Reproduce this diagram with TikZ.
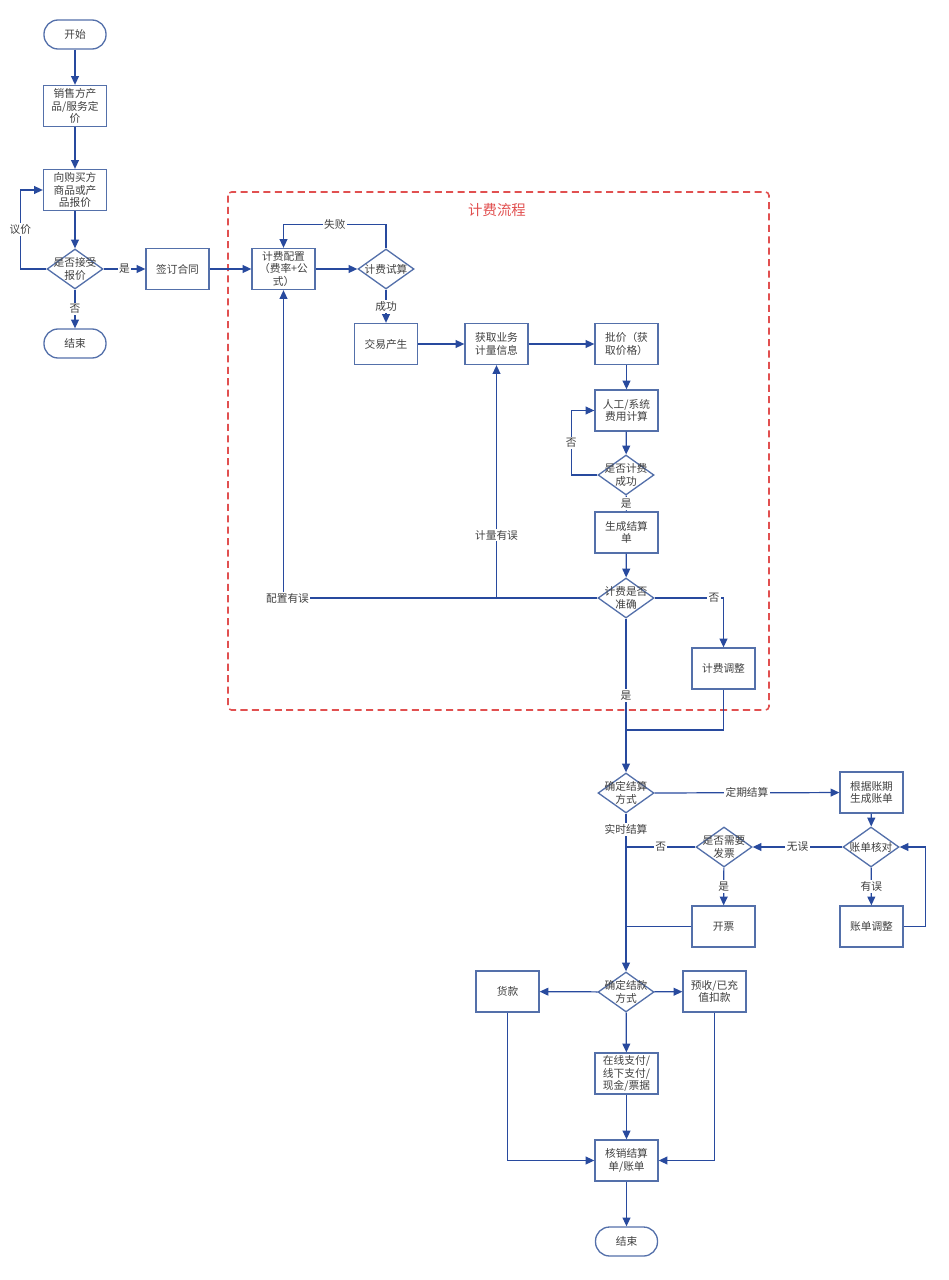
\documentclass[tikz,border=0pt]{standalone}
\usepackage{fontspec}
\setmainfont{Noto Sans CJK SC}
\usetikzlibrary{arrows.meta,shapes.geometric}
\definecolor{boxc}{RGB}{84,112,170}
\definecolor{linec}{RGB}{40,74,158}
\definecolor{txtc}{RGB}{64,64,64}
\definecolor{redc}{RGB}{225,80,80}
\begin{document}
\begin{tikzpicture}[x=0.02cm,y=-0.02cm,
 font=\fontsize{6.1}{7.1}\selectfont, text=txtc,
 box/.style={draw=boxc,line width=0.75pt,minimum width=1.26cm,minimum height=0.82cm,inner sep=1pt,align=center,fill=white},
 term/.style={draw=boxc,line width=0.75pt,rounded corners=0.28cm,minimum width=1.24cm,minimum height=0.58cm,align=center,fill=white},
 dia/.style={draw=boxc,line width=0.75pt,diamond,minimum width=1.12cm,minimum height=0.8cm,inner sep=0pt,fill=white,label={[align=center,text=txtc]center:#1}},
 arr/.style={draw=linec,line width=0.7pt,-{Triangle[length=5pt,width=4.5pt]}},
 ln/.style={draw=linec,line width=0.7pt},
 lab/.style={fill=white,inner sep=0.8pt,text=txtc},
]
\useasboundingbox (0,0) rectangle (948,1280);
% dashed frame
\draw[redc,line width=0.9pt,dash pattern=on 4pt off 2.5pt,rounded corners=2pt] (228,192) rectangle (769,710);
\node[text=redc,font=\fontsize{8.2}{9}\selectfont] (title) at (497,210) {计费流程};

% left column
\node[term] (start) at (75,34.5) {开始};
\node[box] (price) at (75,106) {销售方产\\品/服务定\\价};
\node[box] (quote) at (75,190) {向购买方\\商品或产\\品报价};
\node[dia={是否接受\\报价}] (acc) at (75,269) {};
\node[term] (end1) at (75,343.5) {结束};
\node[box] (sign) at (177.5,269) {签订合同};

\draw[arr] (start) -- (price);
\draw[arr] (price) -- (quote);
\draw[arr] (quote) -- (acc);
\draw[arr] (acc.west) -- ++(-26,0) |- node[lab,pos=0.25]{议价} (quote.west);
\draw[arr] (acc) -- node[lab]{否} (end1);
\draw[arr] (acc) -- node[lab]{是} (sign);

% billing process
\node[box] (cfg) at (283.5,269) {计费配置\\（费率+公\\式）};
\node[dia={计费试算}] (try) at (386,269) {};
\node[box] (trade) at (386,344) {交易产生};
\node[box] (meas) at (496.5,344) {获取业务\\计量信息};
\node[box] (batch) at (626.5,344) {批价（获\\取价格）};
\node[box] (calc) at (626.5,410.5) {人工/系统\\费用计算};
\node[dia={是否计费\\成功}] (ok) at (626,475) {};
\node[box] (gen) at (626.5,532.5) {生成结算\\单};
\node[dia={计费是否\\准确}] (acc2) at (626,598) {};
\node[box] (adj) at (723.5,668.5) {计费调整};

\draw[arr] (sign) -- (cfg);
\draw[arr] (cfg) -- (try);
\draw[arr] (try.north) -- ++(0,-24) -| node[lab,pos=0.25]{失败} (cfg.north);
\draw[arr] (try) -- node[lab]{成功} (trade);
\draw[arr] (trade) -- (meas);
\draw[arr] (meas) -- (batch);
\draw[arr] (batch) -- (calc);
\draw[arr] (calc) -- (ok);
\draw[arr] (ok.west) -- ++(-26,0) |- node[lab,pos=0.25]{否} (calc.west);
\draw[arr] (ok) -- node[lab]{是} (gen);
\draw[arr] (gen) -- (acc2);
\draw[arr] (acc2.west) -| node[lab,pos=0.5,xshift=0.08cm]{配置有误} (cfg.south);
\draw[arr] (meas.south |- acc2.west) -- node[lab,pos=0.27]{计量有误} (meas.south);
\draw[arr] (acc2.east) -| node[lab,pos=0.43]{否} (adj.north);

% settlement
\node[dia={确定结算\\方式}] (mode) at (626,793) {};
\node[box] (bill) at (871.5,792.5) {根据账期\\生成账单};
\node[dia={账单核对}] (chk) at (871,847) {};
\node[dia={是否需要\\发票}] (inv) at (724,847) {};
\node[box] (open) at (723.5,926.5) {开票};
\node[box] (badj) at (871.5,926.5) {账单调整};
\coordinate (j1) at (626,730);

\draw[arr] (acc2) -- node[lab]{是} (mode);
\draw[ln] (adj.south) |- (j1);
\draw[arr] (mode) -- node[lab]{定期结算} (bill);
\draw[arr] (bill) -- (chk);
\draw[arr] (chk) -- node[lab]{无误} (inv);
\draw[ln] (inv.west) -- node[lab]{否} (inv.west -| mode.south);
\draw[arr] (inv) -- node[lab]{是} (open);
\draw[ln] (open.west) -- (open.west -| mode.south);
\draw[arr] (chk) -- node[lab]{有误} (badj);
\draw[arr] (badj.east) -- ++(22,0) |- (chk.east);

% payment
\node[dia={确定结款\\方式}] (pay) at (626,992) {};
\node[box] (loan) at (507.5,991.5) {货款};
\node[box] (pre) at (714.5,991.5) {预收/已充\\值扣款};
\node[box] (online) at (626.5,1073.5) {在线支付/\\线下支付/\\现金/票据};
\node[box] (wo) at (626.5,1160.5) {核销结算\\单/账单};
\node[term] (end2) at (626.5,1241.5) {结束};

\draw[arr] (mode) -- node[lab,pos=0.1]{实时结算} (pay);
\draw[arr] (pay) -- (loan);
\draw[arr] (pay) -- (pre);
\draw[arr] (pay) -- (online);
\draw[arr] (online) -- (wo);
\draw[arr] (loan.south) |- (wo.west);
\draw[arr] (pre.south) |- (wo.east);
\draw[arr] (wo) -- (end2);
\end{tikzpicture}
\end{document}
